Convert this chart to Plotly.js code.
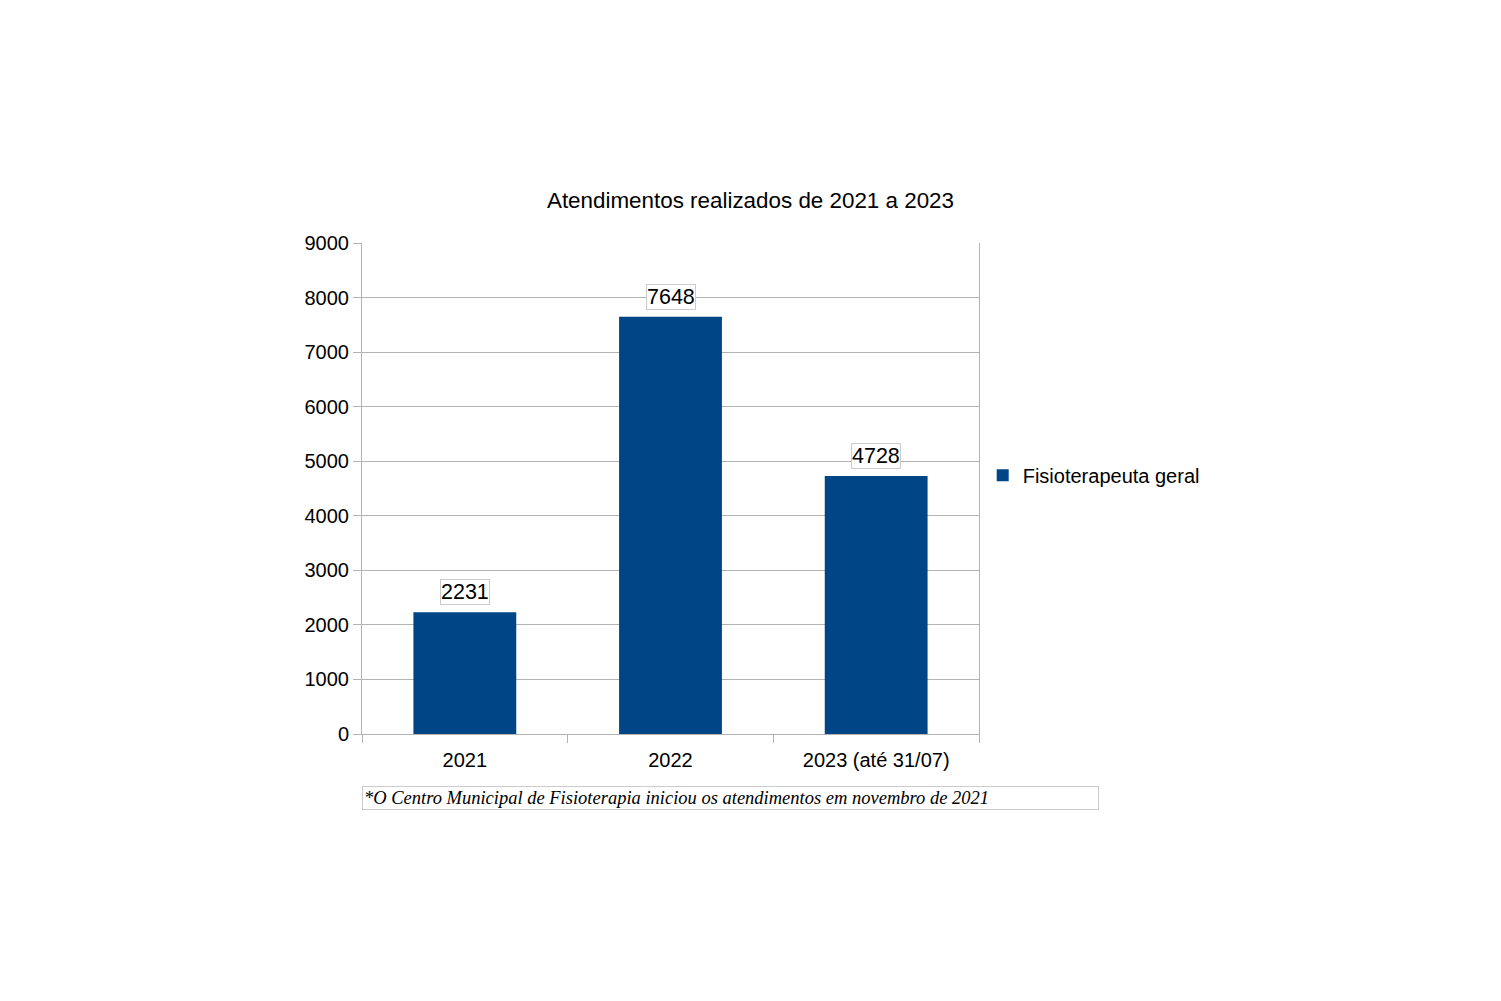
<!DOCTYPE html>
<html><head><meta charset="utf-8">
<script src="https://cdn.plot.ly/plotly-3.0.1.min.js"></script>
<style>body{margin:0;background:#fff}#c{width:1501px;height:1001px}</style>
</head><body><div id="c"></div>
<script>
const categories = ["2021", "2022", "2023 (até 31/07)"];
const values = [2231, 7648, 4728];
const seriesName = "Fisioterapeuta geral";
const titleText = "Atendimentos realizados de 2021 a 2023";
const footnote = "*O Centro Municipal de Fisioterapia iniciou os atendimentos em novembro de 2021";

const font = "Liberation Sans, Arial, sans-serif";
const annotations = categories.map((c, i) => ({
  x: i, y: values[i], xref: "x", yref: "y",
  text: String(values[i]), showarrow: false, yanchor: "bottom", yshift: 7,
  font: {family: font, size: 21.5, color: "#000"},
  bordercolor: "#cccccc", borderwidth: 1, borderpad: 0, bgcolor: "#fff"
}));
annotations.push({
  x: 0, y: -0.13, xref: "paper", yref: "paper", xanchor: "left", yanchor: "middle",
  text: "<i>" + footnote + "</i>", showarrow: false, align: "left",
  width: 733, height: 20,
  font: {family: "Liberation Serif, Times New Roman, serif", size: 18.5, color: "#000"},
  bordercolor: "#cccccc", borderwidth: 1, borderpad: 1
});

Plotly.newPlot("c", [{
  type: "bar", x: categories, y: values, name: seriesName,
  marker: {color: "#004586"}, showlegend: true
}], {
  width: 1501, height: 1001,
  margin: {l: 362, r: 522, t: 243, b: 267, pad: 0},
  paper_bgcolor: "#fff", plot_bgcolor: "#fff",
  font: {family: font, size: 20, color: "#000"},
  title: {text: titleText, x: 0.5, xanchor: "center", y: 1 - 200/1001, yanchor: "middle",
          font: {family: font, size: 22.4, color: "#000"}},
  bargap: 0.5,
  xaxis: {type: "category", range: [-0.5, 2.5], showline: true, linecolor: "#b3b3b3", linewidth: 1,
          ticks: "outside", tickson: "boundaries", ticklen: 8, tickcolor: "#b3b3b3",
          ticklabelstandoff: 8,
          showgrid: false, tickfont: {size: 20}, tickangle: 0, fixedrange: true},
  yaxis: {range: [0, 9000], dtick: 1000, showline: true, mirror: true, linecolor: "#b3b3b3",
          gridcolor: "#b3b3b3", ticks: "outside", ticklen: 8, tickcolor: "#b3b3b3",
          zeroline: false, tickfont: {size: 20}, fixedrange: true},
  legend: {x: 1.006, y: 0.527, xanchor: "left", yanchor: "middle", font: {size: 20},
           itemwidth: 30, bgcolor: "rgba(0,0,0,0)"},
  annotations: annotations
}, {displayModeBar: false, staticPlot: true});
</script></body></html>
